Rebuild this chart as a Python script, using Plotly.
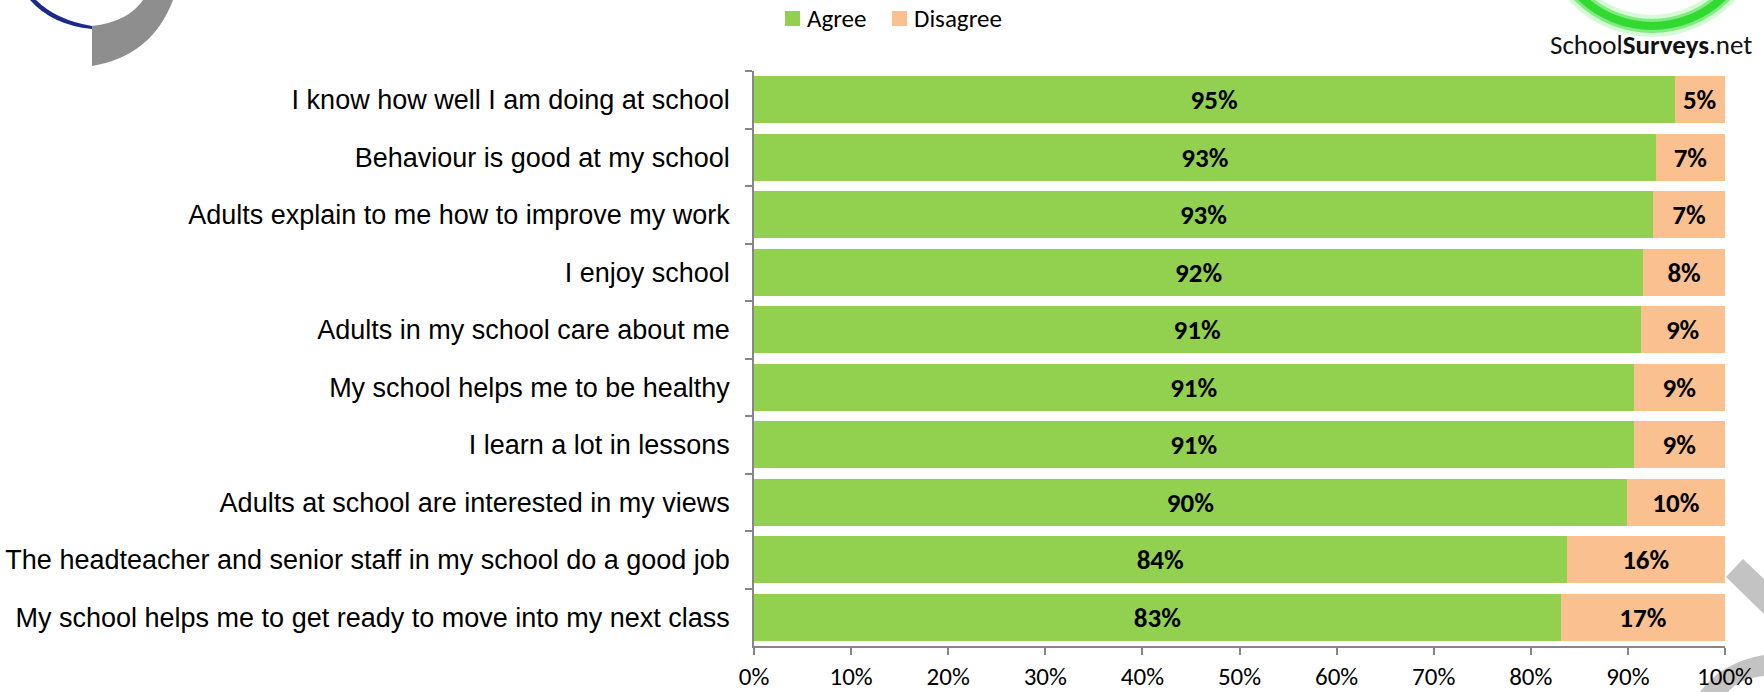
import plotly.graph_objects as go

# ---- data ----
statements = [
    "I know how well I am doing at school",
    "Behaviour is good at my school",
    "Adults explain to me how to improve my work",
    "I enjoy school",
    "Adults in my school care about me",
    "My school helps me to be healthy",
    "I learn a lot in lessons",
    "Adults at school are interested in my views",
    "The headteacher and senior staff in my school do a good job",
    "My school helps me to get ready to move into my next class",
]
agree = [94.8, 92.9, 92.6, 91.6, 91.3, 90.6, 90.6, 89.9, 83.7, 83.1]
disagree = [5.2, 7.1, 7.4, 8.4, 8.7, 9.4, 9.4, 10.1, 16.3, 16.9]
series_names = ["Agree", "Disagree"]
x_ticks = [0, 10, 20, 30, 40, 50, 60, 70, 80, 90, 100]
x_tick_labels = [f"{t}%" for t in x_ticks]

GREEN = "#92D050"
PEACH = "#FAC090"
AXIS = "#868686"
CAL = "Carlito, Lato, 'Open Sans', sans-serif"
ARIAL = "Arial, 'Liberation Sans', sans-serif"

W, H = 1764, 692
ML, MR, MT, MB = 754, 39, 71, 46
PW, PH = W - ML - MR, H - MT - MB


def px(x):
    return (x - ML) / PW


def py(y):
    return (H - MB - y) / PH


def pt(x, y):
    return f"{px(x):.5f},{py(y):.5f}"


fig = go.Figure()
for name, vals, col in zip(series_names, [agree, disagree], [GREEN, PEACH]):
    fig.add_trace(go.Bar(
        y=statements, x=vals, orientation="h", name=name,
        marker=dict(color=col, line=dict(width=0)),
        text=[f"{round(v)}%" for v in vals], textposition="inside",
        insidetextanchor="middle", textangle=0, constraintext="none",
        textfont=dict(family=CAL, size=27, color="black", weight="bold"),
        hoverinfo="skip", showlegend=False,
    ))

shapes = []
annotations = []
# legend (drawn manually to match swatch size / spacing)
for name, col, sx in zip(series_names, [GREEN, PEACH], [785, 892]):
    shapes.append(dict(type="rect", xref="paper", yref="paper",
                       x0=px(sx), x1=px(sx + 15), y0=py(26), y1=py(11),
                       fillcolor=col, line=dict(width=0)))
    annotations.append(dict(xref="paper", yref="paper", x=px(sx + 20), y=py(19),
                            xanchor="left", yanchor="middle", text=name, showarrow=False,
                            font=dict(family=CAL, size=25, color="black")))
# top-left logo fragments
shapes.append(dict(type="path", xref="paper", yref="paper", layer="above",
                   path=f"M {pt(92, 26)} L {pt(92, 66)} Q {pt(152, 56)} {pt(173, 0)} "
                        f"L {pt(143, 0)} Q {pt(128, 22)} {pt(92, 26)} Z",
                   fillcolor="#8E8E8E", line=dict(width=0)))
shapes.append(dict(type="path", xref="paper", yref="paper", layer="above",
                   path=f"M {pt(30, 0)} Q {pt(52, 25)} {pt(92, 29)} "
                        f"L {pt(92, 26)} Q {pt(56, 20)} {pt(36, 0)} Z",
                   fillcolor="#1B2A8A", line=dict(width=0)))
# top-right green ring (glow)
for lw, col in [(22, "rgba(90,235,90,0.25)"), (14, "rgba(70,225,70,0.6)"), (8, "rgba(40,215,40,0.9)")]:
    shapes.append(dict(type="circle", xref="paper", yref="paper", layer="above",
                       x0=px(1652 - 102), x1=px(1652 + 102), y0=py(-76 + 102), y1=py(-76 - 102),
                       line=dict(color=col, width=lw)))
# bottom-right grey template fragments
shapes.append(dict(type="path", xref="paper", yref="paper", layer="below",
                   path=f"M {pt(1726, 577)} L {pt(1743, 559)} L {pt(1764, 579)} L {pt(1764, 614)} Z",
                   fillcolor="#C3C3C3", line=dict(width=0)))
shapes.append(dict(type="path", xref="paper", yref="paper", layer="below",
                   path=f"M {pt(1700, 692)} Q {pt(1722, 662)} {pt(1764, 655)} "
                        f"L {pt(1764, 676)} Q {pt(1740, 678)} {pt(1728, 692)} Z",
                   fillcolor="#C3C3C3", line=dict(width=0)))

annotations.append(dict(xref="paper", yref="paper", x=px(1754), y=py(44), xanchor="right", yanchor="middle",
                        text="School<b>Surveys</b>.net", showarrow=False,
                        font=dict(family=CAL, size=27, color="#111111")))

fig.update_layout(
    barmode="stack",
    bargap=0.18,
    width=W, height=H,
    margin=dict(l=ML, r=MR, t=MT, b=MB, pad=0, autoexpand=False),
    paper_bgcolor="white", plot_bgcolor="white",
    showlegend=False,
    shapes=shapes,
    annotations=annotations,
    xaxis=dict(range=[0, 100], tickvals=x_ticks, ticktext=x_tick_labels,
               showgrid=False, zeroline=False, showline=True, linecolor=AXIS, linewidth=1.5,
               ticks="outside", ticklen=7, tickcolor=AXIS, tickwidth=1.5, ticklabelstandoff=0,
               tickfont=dict(family=CAL, size=25, color="black"), fixedrange=True),
    yaxis=dict(categoryorder="array", categoryarray=statements, autorange="reversed",
               showgrid=False, zeroline=False, showline=True, linecolor=AXIS, linewidth=1.5,
               ticks="outside", ticklen=7, tickcolor=AXIS, tickwidth=1.5, tickson="boundaries",
               ticklabelstandoff=17,
               tickfont=dict(family=ARIAL, size=27, color="black"), fixedrange=True),
    font=dict(family=CAL),
)

fig.write_html("out.html", config={"displayModeBar": False},
               post_script="document.body.style.margin='0';document.body.style.overflow='hidden';")
